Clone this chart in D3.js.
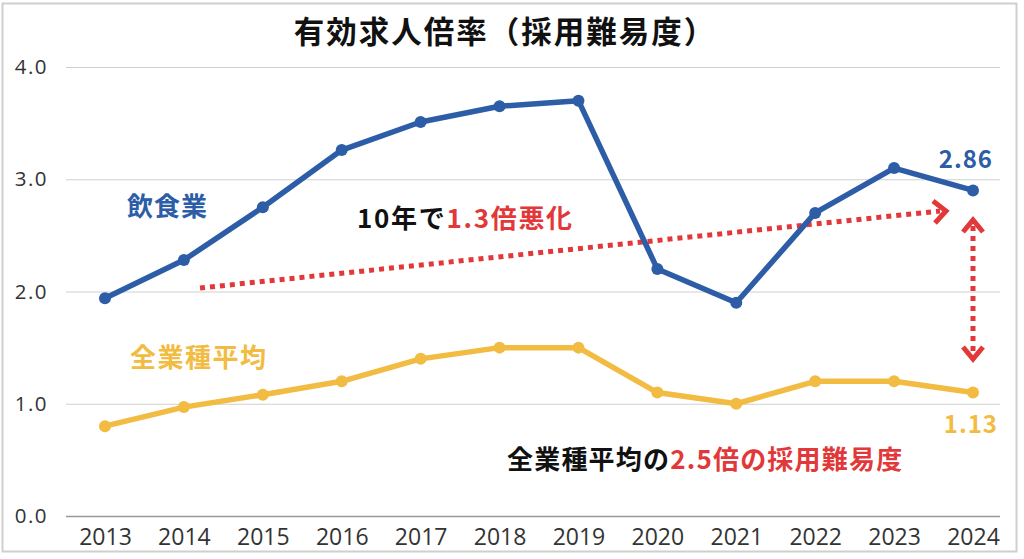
<!DOCTYPE html>
<html><head><meta charset="utf-8">
<script src="https://cdn.jsdelivr.net/npm/d3@7"></script>
<style>
body{margin:0;background:#fff;}
svg{display:block;}
</style></head>
<body>
<svg id="c" width="1024" height="559"></svg>
<script>
const years = ["2013","2014","2015","2016","2017","2018","2019","2020","2021","2022","2023","2024"];
const restaurant = [1.94,2.28,2.75,3.26,3.51,3.65,3.70,2.20,1.90,2.70,3.10,2.90];
const allIndustry = [0.80,0.97,1.08,1.20,1.40,1.50,1.50,1.10,1.00,1.20,1.20,1.10];
const yTicks = [0,1,2,3,4];
const labelRestaurantLast = "2.86";
const labelAllLast = "1.13";

const svg = d3.select("#c");
const blue = "#2c5da6", yellow = "#f2bc42", red = "#e2383a";
const jp = "'Noto Sans CJK JP','Noto Sans',sans-serif";

// frame
svg.append("rect").attr("x",2.5).attr("y",3.5).attr("width",1014).attr("height",548)
  .attr("fill","#fff").attr("stroke","#cfcfcf").attr("stroke-width",2);

const x = d3.scalePoint().domain(years).range([105,973]);
const y = d3.scaleLinear().domain([0,4]).range([516,67]);

// grid
const yAxis = d3.axisLeft(y).tickValues(yTicks).tickFormat(d3.format(".1f")).tickSize(-934).tickPadding(19);
const gy = svg.append("g").attr("transform","translate(66,0)").call(yAxis);
gy.select(".domain").remove();
gy.selectAll(".tick line").attr("stroke",d=>d===0?"#999":"#d0d0d0").attr("stroke-width",d=>d===0?1.5:1);
gy.selectAll(".tick text").attr("font-family","'Open Sans','Noto Sans',sans-serif").attr("font-size",20.5)
  .attr("letter-spacing",1.5).attr("fill","#333").attr("x",-18).attr("text-anchor","end");

const xAxis = d3.axisBottom(x).tickSize(0).tickPadding(13);
const gx = svg.append("g").attr("transform","translate(0,516)").call(xAxis);
gx.select(".domain").remove();
gx.selectAll(".tick text").attr("font-family","'Open Sans','Noto Sans',sans-serif").attr("font-size",23).attr("fill","#333");

// title
svg.append("text").attr("x",505).attr("y",43).attr("text-anchor","middle")
  .attr("font-family",jp).attr("font-weight","bold").attr("font-size",30.5).attr("letter-spacing",2).attr("fill","#111")
  .text("有効求人倍率（採用難易度）");

// trend arrow (dotted)
svg.append("line").attr("x1",200).attr("y1",288).attr("x2",940).attr("y2",211)
  .attr("stroke",red).attr("stroke-width",5).attr("stroke-dasharray","5,5");
svg.append("polyline").attr("points","933,201 946,211 935,223").attr("fill","none")
  .attr("stroke",red).attr("stroke-width",5).attr("stroke-linejoin","miter");

// vertical double arrow
svg.append("line").attr("x1",973).attr("y1",226).attr("x2",973).attr("y2",354)
  .attr("stroke",red).attr("stroke-width",5).attr("stroke-dasharray","5,5");
svg.append("polyline").attr("points","963,232 973,220 983,232").attr("fill","none")
  .attr("stroke",red).attr("stroke-width",5);
svg.append("polyline").attr("points","963,347 973,359 983,347").attr("fill","none")
  .attr("stroke",red).attr("stroke-width",5);

// lines
const line = d3.line().x((d,i)=>x(years[i])).y(d=>y(d));
[[allIndustry,yellow],[restaurant,blue]].forEach(([data,col])=>{
  svg.append("path").datum(data).attr("d",line).attr("fill","none")
    .attr("stroke",col).attr("stroke-width",5.5).attr("stroke-linejoin","round");
  svg.append("g").selectAll("circle").data(data).join("circle")
    .attr("cx",(d,i)=>x(years[i])).attr("cy",d=>y(d)).attr("r",6).attr("fill",col);
});

// labels
svg.append("text").attr("x",127).attr("y",216).attr("font-family",jp).attr("font-weight","bold")
  .attr("font-size",26).attr("letter-spacing",1).attr("fill",blue).text("飲食業");
svg.append("text").attr("x",130).attr("y",367).attr("font-family",jp).attr("font-weight","bold")
  .attr("font-size",26).attr("letter-spacing",1.5).attr("fill",yellow).text("全業種平均");
svg.append("text").attr("x",993).attr("y",168).attr("text-anchor","end").attr("font-family",jp).attr("font-weight","bold")
  .attr("font-size",24).attr("letter-spacing",1).attr("fill",blue).text(labelRestaurantLast);
svg.append("text").attr("x",998).attr("y",433).attr("text-anchor","end").attr("font-family",jp).attr("font-weight","bold")
  .attr("font-size",24).attr("letter-spacing",1).attr("fill",yellow).text(labelAllLast);

const t1 = svg.append("text").attr("x",357).attr("y",228).attr("font-family",jp).attr("font-weight","bold").attr("font-size",26).attr("letter-spacing",1.7);
t1.append("tspan").attr("fill","#111").text("10年で");
t1.append("tspan").attr("fill",red).text("1.3倍悪化");

const t2 = svg.append("text").attr("x",507).attr("y",469).attr("font-family",jp).attr("font-weight","bold").attr("font-size",26).attr("letter-spacing",1.2);
t2.append("tspan").attr("fill","#111").text("全業種平均の");
t2.append("tspan").attr("fill",red).text("2.5倍の採用難易度");
</script>
</body></html>
